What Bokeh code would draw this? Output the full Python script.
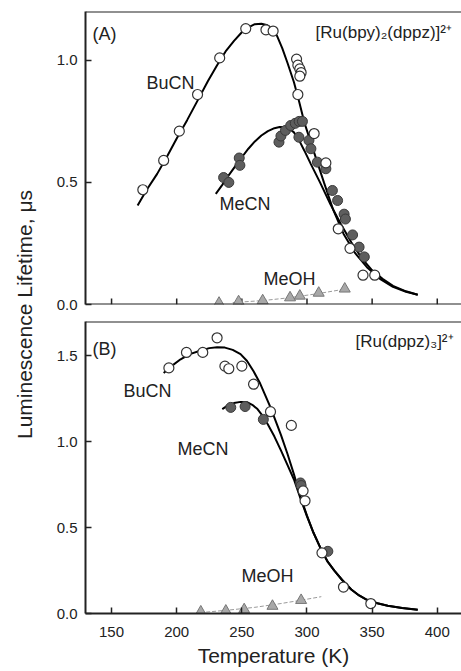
import numpy as np
from bokeh.plotting import figure
from bokeh.models import Range1d, FixedTicker, Span, ColumnDataSource
from bokeh.layouts import row, column
from bokeh.embed import file_html
from bokeh.resources import INLINE
from bokeh.core.properties import value

# ---------------- data ----------------
x_ticks = [150, 200, 250, 300, 350, 400]
a_y_ticks = [0.0, 0.5, 1.0]
b_y_ticks = [0.0, 0.5, 1.0, 1.5]

# Panel A  [Ru(bpy)2(dppz)]2+
a_bucn_T = [174, 190, 202, 216, 233, 253, 268.5, 274, 292, 293, 294.5, 295.5, 294.5, 293,
            305.5, 314.5, 324, 333, 343, 352]
a_bucn_tau = [0.47, 0.59, 0.71, 0.86, 1.01, 1.13, 1.125, 1.12, 1.005, 0.98, 0.965, 0.95, 0.935, 0.86,
              0.70, 0.58, 0.31, 0.23, 0.12, 0.12]
a_mecn_T = [236, 240, 248, 248.5, 278.5, 280, 283.5, 287.5, 291, 294, 296.5, 293.8, 301.5, 303,
            308, 314.5, 319.5, 323.5, 328.5, 329.5, 335, 340, 344]
a_mecn_tau = [0.52, 0.50, 0.60, 0.57, 0.665, 0.69, 0.713, 0.733, 0.742, 0.75, 0.75, 0.685, 0.672, 0.638,
              0.583, 0.556, 0.467, 0.426, 0.37, 0.35, 0.285, 0.235, 0.195]
a_meoh_T = [232.5, 247.5, 266, 287, 294.5, 309, 329]
a_meoh_tau = [0.006, 0.012, 0.016, 0.028, 0.035, 0.047, 0.064]

a_bucn_fit_T = [170, 177, 185, 193, 200, 208, 216, 224, 231, 238, 244, 250, 255, 260, 265, 269, 273,
                277, 281, 285, 290, 294, 298, 305, 313, 320, 328, 337, 346, 356, 366, 376, 385]
a_bucn_fit_tau = [0.405, 0.47, 0.535, 0.61, 0.68, 0.755, 0.835, 0.915, 0.98, 1.04, 1.08, 1.115, 1.135,
                  1.148, 1.15, 1.145, 1.13, 1.10, 1.05, 0.99, 0.91, 0.83, 0.745, 0.63, 0.50, 0.39, 0.29,
                  0.21, 0.153, 0.105, 0.072, 0.052, 0.04]
a_mecn_fit_T = [230, 235, 240, 245, 250, 255, 260, 265, 270, 275, 279, 283, 287, 290, 294, 298, 303,
                310, 318, 326, 334, 342, 350, 358, 366, 376, 385]
a_mecn_fit_tau = [0.453, 0.49, 0.53, 0.567, 0.603, 0.638, 0.668, 0.692, 0.71, 0.722, 0.727, 0.726,
                  0.718, 0.705, 0.672, 0.63, 0.575, 0.50, 0.41, 0.33, 0.255, 0.19, 0.14, 0.105, 0.076,
                  0.054, 0.04]
a_meoh_fit_T = [243, 266, 287, 309, 329]
a_meoh_fit_tau = [0.008, 0.016, 0.028, 0.045, 0.063]

# Panel B  [Ru(dppz)3]2+
b_bucn_T = [194, 207.5, 220, 231, 237, 240, 250, 259, 272, 288, 297, 298.5, 311.5, 328, 349]
b_bucn_tau = [1.43, 1.52, 1.52, 1.605, 1.44, 1.425, 1.44, 1.335, 1.175, 1.095, 0.714, 0.656, 0.353,
              0.154, 0.058]
b_mecn_T = [241.5, 252.5, 266.5, 295, 295.5, 316]
b_mecn_tau = [1.20, 1.205, 1.13, 0.76, 0.745, 0.362]
b_meoh_T = [218.5, 237.7, 251.8, 273.5, 295.5]
b_meoh_tau = [0.01, 0.015, 0.023, 0.043, 0.077]

b_bucn_fit_T = [190, 196, 203, 210, 218, 225, 231, 237, 243, 249, 254, 259, 264, 268, 272, 276, 280,
                285, 290, 295, 300, 305, 311, 316, 321, 327, 334, 340, 346, 354, 362, 373, 385]
b_bucn_fit_tau = [1.40, 1.44, 1.48, 1.51, 1.53, 1.545, 1.55, 1.548, 1.535, 1.51, 1.47, 1.41, 1.34, 1.27,
                  1.20, 1.12, 1.04, 0.93, 0.81, 0.68, 0.57, 0.47, 0.37, 0.30, 0.25, 0.195, 0.14, 0.105,
                  0.08, 0.06, 0.045, 0.032, 0.022]
b_mecn_fit_T = [235, 239, 244, 249, 254, 258, 262, 266, 270, 275, 280, 285, 290, 295, 300, 305, 311,
                316, 321, 327, 334, 340, 346, 354, 362, 373, 385]
b_mecn_fit_tau = [1.19, 1.21, 1.225, 1.232, 1.23, 1.215, 1.19, 1.15, 1.10, 1.03, 0.95, 0.865, 0.78, 0.67,
                  0.565, 0.47, 0.37, 0.30, 0.25, 0.195, 0.14, 0.105, 0.08, 0.06, 0.045, 0.032, 0.022]
b_meoh_fit_T = [218, 240, 260, 280, 296, 311]
b_meoh_fit_tau = [0.005, 0.02, 0.036, 0.058, 0.078, 0.098]

a_labels = ["(A)", "BuCN", "MeCN", "MeOH"]
b_labels = ["(B)", "BuCN", "MeCN", "MeOH"]
a_complex = "[Ru(bpy)\u2082(dppz)]\u00b2\u207a"
b_complex = "[Ru(dppz)\u2083]\u00b2\u207a"

# ---------------- styling ----------------
FONT = "Liberation Sans"
INK = "#222222"
X_START, X_END = 130, 418.6
FRAME_W = 376


def style_axis(ax):
    ax.axis_line_color = INK
    ax.axis_line_width = 2
    ax.major_tick_line_color = INK
    ax.major_tick_line_width = 1.5
    ax.major_tick_in = 6
    ax.major_tick_out = 0
    ax.minor_tick_line_color = None
    ax.major_label_text_font = FONT
    ax.major_label_text_font_size = "15px"
    ax.major_label_text_color = INK


def make_panel(y_end, yticks, frame_h, top_b, bottom_b, with_x_axis):
    p = figure(frame_width=FRAME_W, frame_height=frame_h,
               x_range=Range1d(X_START, X_END), y_range=Range1d(0, y_end),
               output_backend="svg", toolbar_location=None,
               x_axis_location="below" if with_x_axis else None,
               min_border_left=45, min_border_right=0,
               min_border_top=top_b, min_border_bottom=bottom_b)
    p.outline_line_color = None
    p.background_fill_color = "white"
    p.border_fill_color = "white"
    p.grid.visible = False
    style_axis(p.yaxis[0])
    p.yaxis.ticker = FixedTicker(ticks=yticks)
    p.yaxis.major_label_overrides = {t: f"{t:.1f}" for t in yticks}
    p.yaxis.major_label_standoff = 8
    if with_x_axis:
        style_axis(p.xaxis[0])
        p.xaxis.ticker = FixedTicker(ticks=x_ticks)
        p.xaxis.major_label_standoff = 13
        p.xaxis.axis_label = "Temperature (K)"
        p.xaxis.axis_label_text_font = FONT
        p.xaxis.axis_label_text_font_size = "21px"
        p.xaxis.axis_label_text_font_style = "normal"
        p.xaxis.axis_label_text_color = INK
        p.xaxis.axis_label_standoff = 4
    else:
        # bottom line with inward ticks, no tick labels
        p.add_layout(Span(location=0, dimension="width", line_color=INK, line_width=2))
        tick_len = 6 * y_end / frame_h
        p.segment(x0=x_ticks, y0=[0] * len(x_ticks), x1=x_ticks, y1=[tick_len] * len(x_ticks),
                  line_color=INK, line_width=1.5)
    p.add_layout(Span(location=y_end, dimension="width", line_color=INK, line_width=2))
    return p


def draw(p, bucn, mecn, meoh, bucn_fit, mecn_fit, meoh_fit):
    p.line(meoh_fit[0], meoh_fit[1], line_color="#9a9a9a", line_width=1, line_dash="4 2")
    p.line(bucn_fit[0], bucn_fit[1], line_color="black", line_width=2)
    p.line(mecn_fit[0], mecn_fit[1], line_color="black", line_width=2)
    p.scatter(meoh[0], meoh[1], marker="triangle", size=11, fill_color="#a8a8a8",
              line_color="#777777", line_width=1)
    p.scatter(mecn[0], mecn[1], marker="circle", size=10, fill_color="#5e5e5e",
              line_color="#3a3a3a", line_width=1)
    p.scatter(bucn[0], bucn[1], marker="circle", size=10, fill_color="white",
              line_color="#333333", line_width=1.2)


def labels(p, xs, ys, texts, size):
    src = ColumnDataSource(dict(x=xs, y=ys, t=texts))
    p.text(x="x", y="y", text="t", source=src, text_font=value(FONT),
           text_font_size=value(size), text_color=INK,
           text_align="left", text_baseline="middle")


pA = make_panel(1.2, a_y_ticks, 293, 11, 8, False)
draw(pA, (a_bucn_T, a_bucn_tau), (a_mecn_T, a_mecn_tau), (a_meoh_T, a_meoh_tau),
     (a_bucn_fit_T, a_bucn_fit_tau), (a_mecn_fit_T, a_mecn_fit_tau), (a_meoh_fit_T, a_meoh_fit_tau))
labels(pA, [135.4, 176.9, 232.9, 266.7], [1.106, 0.909, 0.41, 0.106], a_labels, "18px")
labels(pA, [306.6], [1.114], [a_complex], "17px")

pB = make_panel(1.7, b_y_ticks, 292, 9, 58, True)
draw(pB, (b_bucn_T, b_bucn_tau), (b_mecn_T, b_mecn_tau), (b_meoh_T, b_meoh_tau),
     (b_bucn_fit_T, b_bucn_fit_tau), (b_mecn_fit_T, b_mecn_fit_tau), (b_meoh_fit_T, b_meoh_fit_tau))
labels(pB, [135.4, 159.2, 200.7, 249.8], [1.542, 1.293, 0.957, 0.216], b_labels, "18px")
labels(pB, [337.3], [1.583], [b_complex], "17px")

# y-axis title shared by both panels
lab = figure(frame_width=40, frame_height=671, x_range=Range1d(0, 40), y_range=Range1d(0, 671),
             output_backend="svg", toolbar_location=None, min_border=0,
             x_axis_type=None, y_axis_type=None)
lab.outline_line_color = None
lab.grid.visible = False
lab.text(x=[24], y=[357], text=["Luminescence Lifetime, \u03bcs"], angle=np.pi / 2,
         text_font=value(FONT), text_font_size=value("21px"), text_color=INK,
         text_align="center", text_baseline="middle")

layout = row(lab, column(pA, pB))
open("out.html", "w").write(file_html(layout, INLINE))
